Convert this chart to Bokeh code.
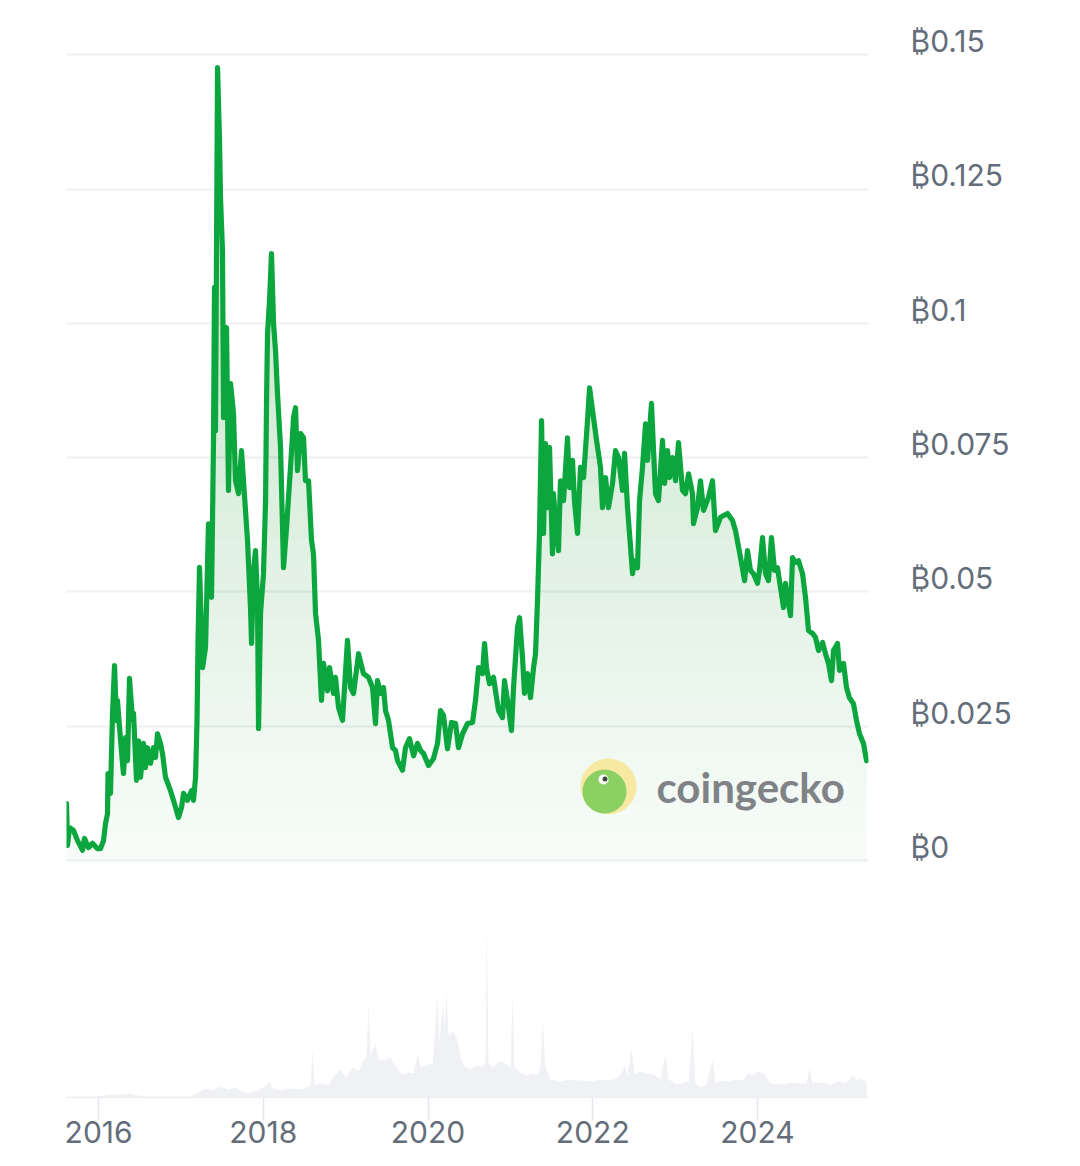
import numpy as np
from bokeh.plotting import figure
from bokeh.models import (Range1d, LinearAxis, FixedTicker, Grid,
                          CustomJSTickFormatter, PrintfTickFormatter)
from bokeh.core.properties import value
from bokeh.embed import file_html
from bokeh.resources import INLINE

# ---------------- data ----------------
t = [2015.610, 2015.622, 2015.647, 2015.695, 2015.744, 2015.805, 2015.829, 2015.877, 2015.926, 2015.987,
     2016.023, 2016.059, 2016.084, 2016.108, 2016.114, 2016.144, 2016.169, 2016.193, 2016.217, 2016.229,
     2016.254, 2016.290, 2016.302, 2016.327, 2016.351, 2016.375, 2016.412, 2016.424, 2016.460, 2016.484,
     2016.509, 2016.545, 2016.569, 2016.594, 2016.630, 2016.667, 2016.691, 2016.715, 2016.752, 2016.776,
     2016.812, 2016.873, 2016.934, 2016.970, 2017.007, 2017.031, 2017.079, 2017.128, 2017.152, 2017.177,
     2017.195, 2017.207, 2017.225, 2017.262, 2017.298, 2017.334, 2017.371, 2017.395, 2017.407, 2017.419,
     2017.444, 2017.468, 2017.480, 2017.504, 2017.517, 2017.553, 2017.577, 2017.602, 2017.638, 2017.662,
     2017.699, 2017.735, 2017.759, 2017.808, 2017.844, 2017.857, 2017.881, 2017.905, 2017.929, 2017.942,
     2017.966, 2018.002, 2018.027, 2018.039, 2018.051, 2018.075, 2018.099, 2018.124, 2018.148, 2018.172,
     2018.209, 2018.245, 2018.282, 2018.330, 2018.367, 2018.391, 2018.415, 2018.452, 2018.488, 2018.512,
     2018.549, 2018.585, 2018.609, 2018.634, 2018.670, 2018.706, 2018.731, 2018.779, 2018.804, 2018.852,
     2018.876, 2018.913, 2018.961, 2019.022, 2019.059, 2019.095, 2019.156, 2019.180, 2019.216, 2019.277,
     2019.326, 2019.362, 2019.386, 2019.423, 2019.459, 2019.484, 2019.520, 2019.569, 2019.605, 2019.629,
     2019.690, 2019.726, 2019.775, 2019.824, 2019.872, 2019.909, 2019.945, 2020.006, 2020.066, 2020.115,
     2020.151, 2020.188, 2020.236, 2020.285, 2020.334, 2020.370, 2020.419, 2020.479, 2020.540, 2020.576,
     2020.613, 2020.661, 2020.686, 2020.710, 2020.746, 2020.795, 2020.819, 2020.856, 2020.904, 2020.928,
     2020.965, 2021.013, 2021.038, 2021.086, 2021.111, 2021.147, 2021.171, 2021.208, 2021.244, 2021.281,
     2021.305, 2021.329, 2021.353, 2021.378, 2021.402, 2021.426, 2021.451, 2021.475, 2021.511, 2021.523,
     2021.560, 2021.584, 2021.608, 2021.645, 2021.693, 2021.718, 2021.754, 2021.778, 2021.815, 2021.851,
     2021.888, 2021.936, 2021.961, 2021.997, 2022.046, 2022.094, 2022.118, 2022.155, 2022.191, 2022.240,
     2022.276, 2022.313, 2022.361, 2022.386, 2022.422, 2022.446, 2022.483, 2022.507, 2022.543, 2022.568,
     2022.604, 2022.641, 2022.665, 2022.713, 2022.738, 2022.762, 2022.798, 2022.847, 2022.871, 2022.908,
     2022.932, 2022.968, 2023.005, 2023.041, 2023.090, 2023.126, 2023.163, 2023.211, 2023.223, 2023.272,
     2023.308, 2023.345, 2023.405, 2023.454, 2023.490, 2023.551, 2023.636, 2023.697, 2023.733, 2023.794,
     2023.843, 2023.879, 2023.915, 2023.952, 2024.000, 2024.025, 2024.061, 2024.098, 2024.134, 2024.170,
     2024.207, 2024.243, 2024.280, 2024.316, 2024.340, 2024.365, 2024.401, 2024.425, 2024.462, 2024.498,
     2024.547, 2024.583, 2024.620, 2024.668, 2024.705, 2024.741, 2024.790, 2024.826, 2024.862, 2024.899,
     2024.923, 2024.972, 2024.996, 2025.045, 2025.081, 2025.117, 2025.166, 2025.202, 2025.239, 2025.287,
     2025.324]

price = [0.0106, 0.0028, 0.0061, 0.0056, 0.0037, 0.0019, 0.0041, 0.0024, 0.0032, 0.0022,
         0.0022, 0.0037, 0.0069, 0.0087, 0.0162, 0.0125, 0.0274, 0.0363, 0.0261, 0.0298,
         0.0248, 0.0181, 0.0162, 0.0229, 0.0186, 0.0339, 0.0261, 0.0274, 0.0149, 0.0223,
         0.0155, 0.0218, 0.0173, 0.0210, 0.0181, 0.0210, 0.0192, 0.0236, 0.0218, 0.0199,
         0.0155, 0.0130, 0.0099, 0.0080, 0.0099, 0.0125, 0.0112, 0.0130, 0.0112, 0.0155,
         0.0261, 0.0410, 0.0546, 0.0359, 0.0397, 0.0627, 0.0490, 0.0782, 0.1067, 0.0800,
         0.1476, 0.1340, 0.1234, 0.1136, 0.0825, 0.0992, 0.0689, 0.0888, 0.0832, 0.0707,
         0.0683, 0.0763, 0.0707, 0.0596, 0.0471, 0.0404, 0.0540, 0.0577, 0.0484, 0.0246,
         0.0460, 0.0534, 0.0670, 0.0856, 0.0981, 0.1042, 0.1130, 0.1000, 0.0949, 0.0869,
         0.0769, 0.0545, 0.0620, 0.0732, 0.0825, 0.0843, 0.0726, 0.0795, 0.0787, 0.0707,
         0.0707, 0.0596, 0.0571, 0.0460, 0.0410, 0.0298, 0.0367, 0.0316, 0.0359, 0.0311,
         0.0341, 0.0285, 0.0261, 0.0410, 0.0322, 0.0311, 0.0385, 0.0370, 0.0348, 0.0341,
         0.0322, 0.0255, 0.0335, 0.0311, 0.0322, 0.0279, 0.0261, 0.0210, 0.0205, 0.0186,
         0.0168, 0.0210, 0.0227, 0.0195, 0.0218, 0.0205, 0.0199, 0.0177, 0.0190, 0.0218,
         0.0279, 0.0270, 0.0208, 0.0257, 0.0255, 0.0210, 0.0236, 0.0255, 0.0257, 0.0298,
         0.0359, 0.0348, 0.0404, 0.0359, 0.0329, 0.0341, 0.0316, 0.0279, 0.0266, 0.0335,
         0.0298, 0.0242, 0.0322, 0.0434, 0.0452, 0.0378, 0.0311, 0.0348, 0.0303, 0.0359,
         0.0385, 0.0484, 0.0609, 0.0819, 0.0609, 0.0776, 0.0657, 0.0769, 0.0571, 0.0683,
         0.0609, 0.0577, 0.0707, 0.0670, 0.0787, 0.0694, 0.0745, 0.0670, 0.0609, 0.0732,
         0.0713, 0.0819, 0.0880, 0.0838, 0.0782, 0.0732, 0.0657, 0.0713, 0.0657, 0.0702,
         0.0763, 0.0750, 0.0689, 0.0758, 0.0657, 0.0609, 0.0534, 0.0558, 0.0545, 0.0670,
         0.0732, 0.0813, 0.0745, 0.0851, 0.0763, 0.0683, 0.0670, 0.0782, 0.0702, 0.0763,
         0.0713, 0.0750, 0.0707, 0.0778, 0.0689, 0.0683, 0.0720, 0.0683, 0.0627, 0.0657,
         0.0707, 0.0652, 0.0676, 0.0707, 0.0614, 0.0639, 0.0646, 0.0633, 0.0614, 0.0564,
         0.0521, 0.0577, 0.0540, 0.0534, 0.0516, 0.0540, 0.0601, 0.0534, 0.0521, 0.0601,
         0.0540, 0.0545, 0.0508, 0.0471, 0.0516, 0.0490, 0.0456, 0.0564, 0.0555, 0.0558,
         0.0534, 0.0490, 0.0428, 0.0423, 0.0415, 0.0391, 0.0406, 0.0385, 0.0367, 0.0335,
         0.0391, 0.0404, 0.0354, 0.0367, 0.0322, 0.0303, 0.0292, 0.0261, 0.0236, 0.0218,
         0.0186]

vol_t = [2015.610, 2015.780, 2015.962, 2016.059, 2016.144, 2016.266, 2016.387, 2016.484, 2016.630, 2016.873,
         2017.116, 2017.213, 2017.298, 2017.383, 2017.480, 2017.577, 2017.674, 2017.735, 2017.844, 2017.942,
         2018.027, 2018.075, 2018.112, 2018.209, 2018.330, 2018.452, 2018.524, 2018.573, 2018.597, 2018.622,
         2018.694, 2018.792, 2018.864, 2018.937, 2019.010, 2019.083, 2019.156, 2019.204, 2019.253, 2019.277,
         2019.301, 2019.362, 2019.399, 2019.471, 2019.544, 2019.617, 2019.690, 2019.763, 2019.824, 2019.872,
         2019.909, 2019.981, 2020.054, 2020.115, 2020.139, 2020.176, 2020.200, 2020.224, 2020.249, 2020.297,
         2020.346, 2020.394, 2020.455, 2020.516, 2020.589, 2020.661, 2020.698, 2020.710, 2020.734, 2020.783,
         2020.831, 2020.892, 2020.953, 2021.001, 2021.026, 2021.050, 2021.123, 2021.196, 2021.268, 2021.329,
         2021.366, 2021.390, 2021.426, 2021.487, 2021.608, 2021.730, 2021.851, 2021.973, 2022.094, 2022.216,
         2022.313, 2022.386, 2022.422, 2022.471, 2022.507, 2022.580, 2022.677, 2022.762, 2022.823, 2022.883,
         2022.920, 2023.005, 2023.090, 2023.163, 2023.211, 2023.248, 2023.308, 2023.381, 2023.454, 2023.490,
         2023.551, 2023.648, 2023.745, 2023.830, 2023.891, 2023.940, 2024.013, 2024.085, 2024.158, 2024.280,
         2024.401, 2024.523, 2024.595, 2024.632, 2024.668, 2024.765, 2024.887, 2024.984, 2025.081, 2025.154,
         2025.202, 2025.251, 2025.324]

vol = [1, 1, 1, 2, 3, 3, 4, 2, 1, 1,
       1, 5, 9, 7, 11, 8, 10, 6, 5, 7,
       11, 16, 9, 7, 9, 8, 10, 12, 49, 12,
       14, 12, 22, 28, 20, 30, 26, 35, 40, 94,
       42, 54, 38, 37, 40, 30, 23, 25, 24, 44,
       30, 32, 34, 99, 55, 92, 70, 106, 62, 66,
       60, 40, 30, 28, 32, 30, 36, 178, 34, 30,
       34, 36, 33, 30, 104, 30, 25, 22, 24, 22,
       30, 76, 30, 18, 16, 18, 17, 16, 18, 17,
       20, 31, 22, 50, 24, 26, 24, 22, 18, 43,
       18, 14, 14, 16, 67, 14, 10, 12, 38, 14,
       17, 16, 18, 17, 24, 22, 26, 23, 14, 13,
       15, 14, 14, 29, 14, 15, 13, 16, 14, 22,
       17, 19, 16]

year_ticks = [2016, 2018, 2020, 2022, 2024]
price_ticks = [0, 0.025, 0.05, 0.075, 0.1, 0.125, 0.15]

# ---------------- styling / layout ----------------
GREEN = "#0ca63e"
TXT = "#646d7a"
X0, X1 = 2015.610, 2025.348
Y0, Y1 = -0.04412, 0.15862
LAB_SHIFT = 0.00253          # tick labels sit slightly above their grid lines
FRAME_W, FRAME_H = 802, 1089
LEFT, TOP = 66, 8

p = figure(width=1072, height=1163, output_backend="svg", toolbar_location=None,
           x_range=Range1d(X0, X1), y_range=Range1d(Y0, Y1),
           x_axis_location=None, y_axis_location=None,
           min_border_left=LEFT, min_border_right=204, min_border_top=TOP,
           min_border_bottom=66)
p.outline_line_color = None
p.background_fill_color = "white"
p.border_fill_color = "white"
p.xgrid.grid_line_color = None
p.ygrid.grid_line_color = None
p.extra_y_ranges = {"vol": Range1d(0, FRAME_H),
                    "lab": Range1d(Y0 - LAB_SHIFT, Y1 - LAB_SHIFT)}

grid = Grid(dimension=1, ticker=FixedTicker(ticks=price_ticks),
            grid_line_color="#eef0f2", grid_line_width=2)
p.add_layout(grid)

# x axis (years)
xax = LinearAxis(ticker=FixedTicker(ticks=year_ticks),
                 formatter=PrintfTickFormatter(format="%d"))
xax.axis_line_color = "#eceef1"
xax.axis_line_width = 1.5
xax.major_tick_in = 0
xax.major_tick_out = 23
xax.major_tick_line_color = "#e4e6ea"
xax.major_tick_line_width = 1.5
xax.minor_tick_line_color = None
xax.major_label_text_font = "Inter"
xax.major_label_text_font_size = "30px"
xax.major_label_text_color = TXT
xax.major_label_standoff = 0
p.add_layout(xax, "below")

# y labels on the right
yax = LinearAxis(y_range_name="lab", ticker=FixedTicker(ticks=price_ticks),
                 formatter=CustomJSTickFormatter(
                     code="return '\u20bf' + Number(tick.toFixed(3)).toString();"))
yax.axis_line_color = None
yax.major_tick_line_color = None
yax.minor_tick_line_color = None
yax.major_tick_in = 0
yax.major_tick_out = 0
yax.major_label_standoff = 42
yax.major_label_text_font = "Inter"
yax.major_label_text_font_size = "30px"
yax.major_label_text_color = TXT
p.add_layout(yax, "right")

# volume (background)
p.varea(x=vol_t, y1=0, y2=vol, y_range_name="vol", fill_color="#eff1f4", fill_alpha=1.0)

# gradient-like fill under the price line
pr = np.array(price)
levels = np.arange(0, 0.1501, 0.005)
for i, L in enumerate(levels):
    p.varea(x=t, y1=float(L), y2=np.maximum(pr, L), fill_color=GREEN,
            fill_alpha=0.03 if i == 0 else 0.007)

# watermark (decoration, placed in pixels)
def px_x(px):
    return X0 + (px - 66) * (X1 - X0) / FRAME_W

def px_y(py):
    return Y1 - (py - 8) * (Y1 - Y0) / FRAME_H

p.scatter([px_x(608)], [px_y(786)], size=56, fill_color="#f7e8a2", line_color=None)
p.scatter([px_x(604)], [px_y(791)], size=44, fill_color="#8ad063", line_color=None)
p.scatter([px_x(603)], [px_y(779)], size=10, fill_color="white", line_color=None)
p.scatter([px_x(604.5)], [px_y(778.5)], size=5, fill_color="#3d4a3a", line_color=None)
p.text(x=[px_x(656)], y=[px_y(786)], text=["coingecko"], text_font=value("Lato"),
       text_font_style="bold", text_font_size="42px", text_color="#7f8386",
       text_baseline="middle", text_align="left")

# price line
p.line(t, price, line_color=GREEN, line_width=5.2, line_join="round", line_cap="round")

with open("out.html", "w", encoding="utf-8") as f:
    f.write(file_html(p, INLINE))
